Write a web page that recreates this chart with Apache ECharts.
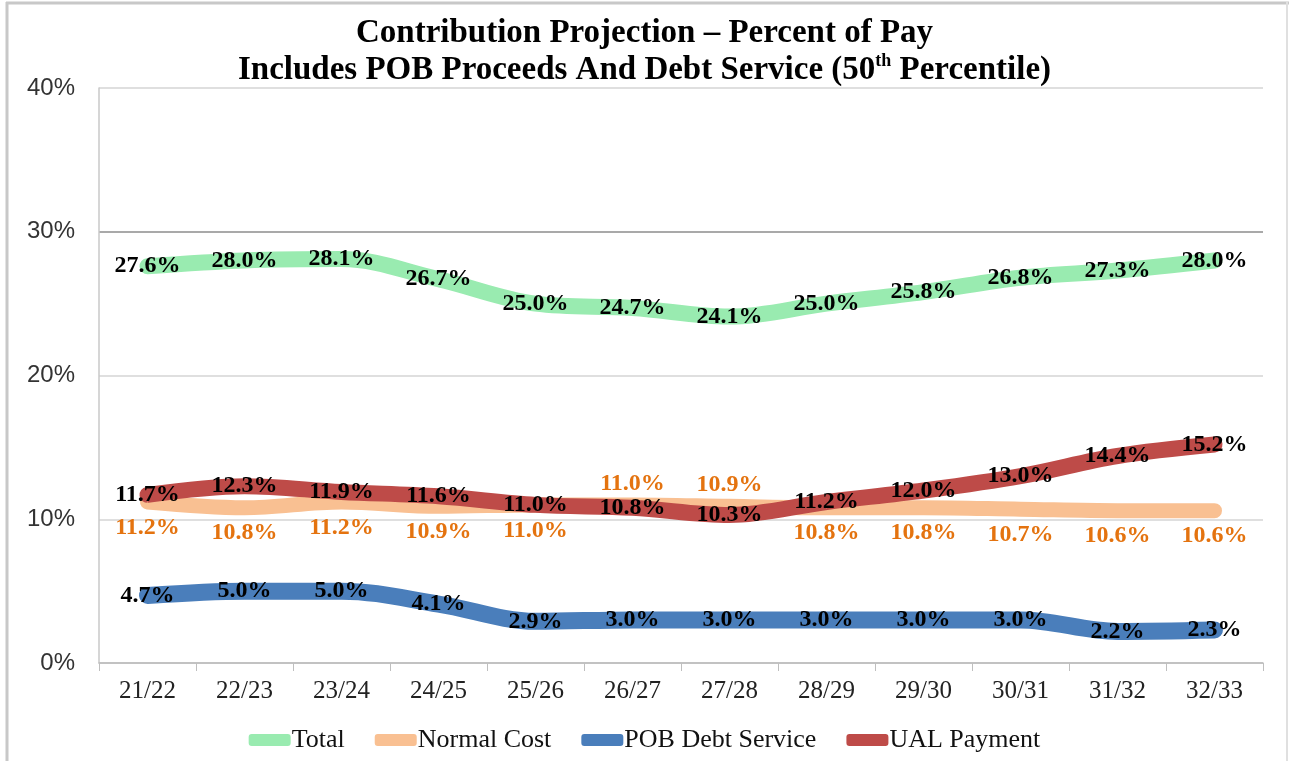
<!DOCTYPE html>
<html>
<head>
<meta charset="utf-8">
<title>Contribution Projection</title>
<script src="https://cdn.jsdelivr.net/npm/echarts@6/dist/echarts.min.js"></script>
<style>
  html, body { margin: 0; padding: 0; background: #fff; }
  #chart { width: 1289px; height: 761px; }
</style>
</head>
<body>
<div id="chart"></div>
<script>
// fiscal years on the x axis
const years = ['21/22', '22/23', '23/24', '24/25', '25/26', '26/27', '27/28', '28/29', '29/30', '30/31', '31/32', '32/33']

// percent of pay
const total = [27.6, 28.0, 28.1, 26.7, 25.0, 24.7, 24.1, 25.0, 25.8, 26.8, 27.3, 28.0]
const normalCost = [11.2, 10.8, 11.2, 10.9, 11.0, 11.0, 10.9, 10.8, 10.8, 10.7, 10.6, 10.6]
const pobDebt = [4.7, 5.0, 5.0, 4.1, 2.9, 3.0, 3.0, 3.0, 3.0, 3.0, 2.2, 2.3]
const ualPayment = [11.7, 12.3, 11.9, 11.6, 11.0, 10.8, 10.3, 11.2, 12.0, 13.0, 14.4, 15.2]

// y axis ticks
const yTicks = [0, 10, 20, 30, 40]

// years where the normal cost label sits above the line instead of below
const ncLabelAbove = ['26/27', '27/28']

const SERIF = '"Liberation Serif", "Times New Roman", serif'
const fmtPct = p => p.value.toFixed(1) + '%'

const labelBase = {
  show: true,
  position: 'inside',
  formatter: fmtPct,
  fontFamily: SERIF,
  fontWeight: 'bold',
  fontSize: 24,
  color: '#000'
}

function lineSeries(name, values, color, width, label) {
  return {
    name,
    type: 'line',
    smooth: 0.35,
    symbol: 'circle',
    symbolSize: 1,
    showSymbol: true,
    itemStyle: { color },
    lineStyle: { color, width, cap: 'round', join: 'round' },
    label,
    data: values,
    emphasis: { disabled: true },
    silent: true
  }
}

// normal cost: labels mostly under the line, two above
const ncData = normalCost.map((v, i) => {
  const above = ncLabelAbove.includes(years[i])
  return {
    value: v,
    label: above ? { position: 'top', distance: 9 } : { position: 'bottom', distance: 13 }
  }
})

const chart = echarts.init(document.getElementById('chart'))

chart.setOption({
  animation: false,
  title: {
    text: 'Contribution Projection – Percent of Pay\nIncludes POB Proceeds And Debt Service (50{sup|th} Percentile)',
    left: 'center',
    top: 10,
    textStyle: {
      fontFamily: SERIF,
      fontWeight: 'bold',
      fontSize: 33,
      lineHeight: 37,
      color: '#000',
      rich: {
        sup: {
          fontFamily: SERIF,
          fontWeight: 'bold',
          fontSize: 18,
          verticalAlign: 'top',
          lineHeight: 30,
          color: '#000'
        }
      }
    }
  },
  legend: {
    top: 722,
    left: 'center',
    icon: 'roundRect',
    itemWidth: 42,
    itemHeight: 12,
    itemGap: 30,
    textStyle: { fontFamily: SERIF, fontSize: 26, color: '#111', padding: [0, 0, 0, -4] },
    data: ['Total', 'Normal Cost', 'POB Debt Service', 'UAL Payment']
  },
  grid: { left: 99, right: 26, top: 88, bottom: 98 },
  xAxis: {
    type: 'category',
    data: years,
    boundaryGap: true,
    axisLine: { lineStyle: { color: '#bfbfbf', width: 1.5 } },
    axisTick: { show: true, length: 8, lineStyle: { color: '#bfbfbf' } },
    axisLabel: { fontFamily: SERIF, fontSize: 25, color: '#222', margin: 16 }
  },
  yAxis: {
    type: 'value',
    min: yTicks[0],
    max: yTicks[yTicks.length - 1],
    interval: 10,
    axisLine: { show: true, lineStyle: { color: '#c8c8c8', width: 1.5 } },
    axisTick: { show: false },
    axisLabel: {
      formatter: '{value}%',
      fontFamily: '"Liberation Sans", Arial, sans-serif',
      fontSize: 24,
      color: '#333',
      margin: 24
    },
    splitLine: {
      lineStyle: { color: ['#bfbfbf', '#d4d4d4', '#d4d4d4', '#8c8c8c', '#d4d4d4'], width: 1.5 }
    }
  },
  graphic: [
    // light frame around the picture
    { type: 'line', shape: { x1: 7, y1: 2, x2: 7, y2: 761 }, style: { stroke: '#c8c8c8', lineWidth: 3 }, silent: true },
    { type: 'line', shape: { x1: 6, y1: 3, x2: 1289, y2: 3 }, style: { stroke: '#c8c8c8', lineWidth: 3 }, silent: true },
    { type: 'line', shape: { x1: 1287, y1: 2, x2: 1287, y2: 761 }, style: { stroke: '#e0e0e0', lineWidth: 2 }, silent: true }
  ],
  series: [
    lineSeries('Total', total, '#99EBB0', 16, labelBase),
    lineSeries('Normal Cost', ncData, '#F9C092', 15, Object.assign({}, labelBase, { color: '#E4730F' })),
    lineSeries('POB Debt Service', pobDebt, '#4A7EBB', 17, labelBase),
    lineSeries('UAL Payment', ualPayment, '#BE4B48', 16, labelBase)
  ]
})

window.addEventListener('resize', () => chart.resize())
</script>
</body>
</html>
